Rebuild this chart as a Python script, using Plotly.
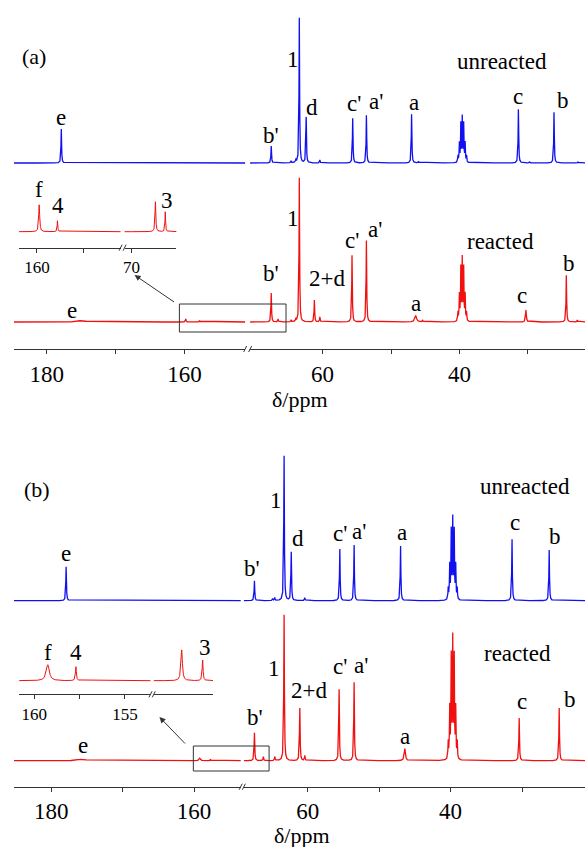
import numpy as np
import plotly.graph_objects as go

W, H = 585, 847

# ---------------------------------------------------------------- data
# Peak lists: chemical shift (ppm), intensity, half-width (ppm)
# Panel (a) - unreacted
a_unr_ppm = [177.9, 67.5, 64.6, 63.9, 63.4, 62.4, 60.4, 55.6, 53.6, 47.0, 46.0, 31.4, 29.8, 26.2, 22.7]
a_unr_int = [34, 17, 2, 3, 146, 46, 3, 45, 48, 49, 1.5, 54, 1, 51, 1]
a_unr_wid = [0.05, 0.05, 0.05, 0.05, 0.05, 0.05, 0.05, 0.05, 0.05, 0.05, 0.05, 0.05, 0.05, 0.05, 0.05]
# Panel (a) - reacted
a_rea_ppm = [174.9, 159.8, 157.8, 67.5, 66.5, 64.6, 63.9, 63.4, 61.2, 60.4, 55.7, 53.6, 46.4, 45.4, 30.3, 24.4, 22.8]
a_rea_int = [1.5, 3, 1.5, 29, 3, 2, 3, 145, 22, 5, 67, 82, 6.5, 2, 12, 47, 2]
a_rea_wid = [0.6, 0.06, 0.05, 0.05, 0.05, 0.05, 0.05, 0.05, 0.05, 0.05, 0.05, 0.05, 0.15, 0.05, 0.07, 0.05, 0.05]
# Panel (a) - inset (reacted, magnified)
a_ins_ppm = [159.75, 157.8, 67.45, 66.4]
a_ins_int = [27, 11, 30, 20]
a_ins_wid = [0.06, 0.04, 0.05, 0.04]

# Panel (b) - unreacted
b_unr_ppm = [177.9, 67.45, 64.9, 64.6, 63.3, 62.3, 60.4, 55.5, 53.5, 47.0, 31.4, 26.2]
b_unr_int = [34, 20, 2, 3, 146, 49, 3, 52, 56, 55, 62, 51]
b_unr_wid = [0.05, 0.05, 0.05, 0.05, 0.05, 0.05, 0.05, 0.05, 0.05, 0.05, 0.05, 0.05]
# Panel (b) - reacted
b_rea_ppm = [175.7, 159.2, 157.7, 67.45, 66.2, 64.6, 63.3, 61.1, 60.4, 55.6, 53.5, 46.4, 30.4, 24.8]
b_rea_int = [1.5, 2.5, 1.5, 28, 4, 4, 147, 53, 5, 72, 79, 12, 43, 53]
b_rea_wid = [0.6, 0.12, 0.04, 0.05, 0.05, 0.05, 0.05, 0.05, 0.05, 0.05, 0.05, 0.1, 0.05, 0.05]
# Panel (b) - inset (reacted, magnified)
b_ins_ppm = [159.25, 157.7, 67.45, 66.25]
b_ins_int = [16, 14, 31, 21]
b_ins_wid = [0.1, 0.03, 0.05, 0.03]

# DMSO-d6 solvent septet: centre (ppm) and line height of each spectrum
dmso_ppm = {"a_unr": 39.6, "a_rea": 39.6, "b_unr": 39.7, "b_rea": 39.7}
dmso_int = {"a_unr": 45, "a_rea": 62, "b_unr": 80, "b_rea": 119}
dmso_J = 0.21
dmso_ratio = [1, 3, 6, 7, 6, 3, 1]

# tick labels
main_ticks_left = [180, 170, 160]
main_ticktext_left = ["180", "", "160"]
main_ticks_right = [60, 50, 40, 30]
main_ticktext_right = ["60", "", "40", ""]

BLUE = "#1010F0"
RED = "#F01010"
AX = "#333333"
FONT = "Liberation Serif, Times New Roman, serif"


def spectrum(x, ppm, inten, wid, key=None):
    y = np.zeros_like(x)
    for p, h, w in zip(ppm, inten, wid):
        y += h * w * w / ((x - p) ** 2 + w * w)
    if key is not None:
        for k, r in enumerate(dmso_ratio):
            c = dmso_ppm[key] + dmso_J * (k - 3)
            y += dmso_int[key] * r / 7.0 * 0.045 ** 2 / ((x - c) ** 2 + 0.045 ** 2)
    return y


# ---------------------------------------------------------------- axes geometry
def px2x(px):
    return px / W


def py2y(py):
    return 1 - py / H


# ppm calibration (pixel -> ppm) for each axis segment
def cal(ppm0, px0, scale):
    return lambda px: ppm0 - (px - px0) / scale


ax_defs = {
    "x": (12, 244, cal(180, 45, 6.9)),
    "x2": (249, 585, cal(60, 321.7, 6.87)),
    "x3": (12, 239.5, cal(180, 49.3, 7.17)),
    "x4": (242.7, 585, cal(60, 306.7, 7.17)),
    "x5": (17, 119, cal(160, 35, 9.4)),
    "x6": (123, 175, cal(70, 130, 9.4)),
    "x7": (17.3, 149, cal(160, 32.3, 18.2)),
    "x8": (152.3, 211.7, cal(67.45, 180.3, 17.5)),
}

# y axes: (axis line pixel row, top pixel row)
y_defs = {
    "y": (349, 0),
    "y2": (786.7, 400),
    "y3": (247.7, 175),
    "y4": (694.3, 625),
}

fig = go.Figure()


def add_trace(xname, yname, ppm, inten, wid, offset, color, key=None, lw=1.3):
    l, r, f = ax_defs[xname]
    hi, lo = f(l), f(r)
    x = np.arange(lo - 0.05, hi + 0.05, 0.01)
    y = spectrum(x, ppm, inten, wid, key) + offset
    fig.add_trace(go.Scatter(x=np.round(x, 3), y=np.round(y, 2), mode="lines",
                             line=dict(color=color, width=lw),
                             xaxis=xname, yaxis=yname, showlegend=False,
                             hoverinfo="skip"))


# panel (a)
for xa in ("x", "x2"):
    add_trace(xa, "y", a_unr_ppm, a_unr_int, a_unr_wid, 186, BLUE, "a_unr")
    add_trace(xa, "y", a_rea_ppm, a_rea_int, a_rea_wid, 27, RED, "a_rea")
for xa in ("x5", "x6"):
    add_trace(xa, "y3", a_ins_ppm, a_ins_int, a_ins_wid, 16, RED, lw=1)
# panel (b)
for xa in ("x3", "x4"):
    add_trace(xa, "y2", b_unr_ppm, b_unr_int, b_unr_wid, 186, BLUE, "b_unr")
    add_trace(xa, "y2", b_rea_ppm, b_rea_int, b_rea_wid, 26, RED, "b_rea")
for xa in ("x7", "x8"):
    add_trace(xa, "y4", b_ins_ppm, b_ins_int, b_ins_wid, 13.6, RED, lw=1)

layout = dict(width=W, height=H, margin=dict(l=0, r=0, t=0, b=0),
              paper_bgcolor="white", plot_bgcolor="rgba(0,0,0,0)",
              showlegend=False, font=dict(family=FONT, color="black"))

anchors = {"x": "y", "x2": "y", "x3": "y2", "x4": "y2",
           "x5": "y3", "x6": "y3", "x7": "y4", "x8": "y4"}
tick_cfg = {
    "x": (main_ticks_left, main_ticktext_left, 23),
    "x2": (main_ticks_right, main_ticktext_right, 23),
    "x3": (main_ticks_left, main_ticktext_left, 23),
    "x4": (main_ticks_right, main_ticktext_right, 23),
    "x5": ([160, 155], ["160", ""], 17),
    "x6": ([70], ["70"], 17),
    "x7": ([160, 157.5, 155], ["160", "", "155"], 17),
    "x8": ([], [], 17),
}
for name, (l, r, f) in ax_defs.items():
    key = "xaxis" if name == "x" else "xaxis" + name[1:]
    tv, tt, fs = tick_cfg[name]
    layout[key] = dict(domain=[px2x(l), px2x(r)], range=[f(l), f(r)],
                       anchor=anchors[name], showline=True, linecolor=AX,
                       linewidth=1, ticks="outside" if tv else "", ticklen=4,
                       tickcolor=AX, tickvals=tv, ticktext=tt,
                       tickfont=dict(family=FONT, size=fs, color="black"),
                       showgrid=False, zeroline=False, fixedrange=True)
for name, (bot, top) in y_defs.items():
    key = "yaxis" if name == "y" else "yaxis" + name[1:]
    layout[key] = dict(domain=[py2y(bot), py2y(top)], range=[0, bot - top],
                       visible=False, fixedrange=True)

# ---------------------------------------------------------------- labels
labels = [
    # panel (a)
    ("(a)", 32, 56, 22), ("e", 59, 117, 23), ("b'", 270, 135, 23), ("1", 292, 59, 23),
    ("d", 311, 107, 23), ("c'", 353, 104, 23), ("a'", 375, 102, 23), ("a", 413, 103, 23),
    ("unreacted", 502, 62, 23), ("c", 518, 97, 23), ("b", 563, 100, 23),
    ("f", 37, 189, 23), ("4", 56, 205, 23), ("3", 166, 200, 23),
    ("e", 70, 311, 23), ("b'", 270, 273, 23), ("1", 292, 218, 23), ("2+d", 326, 278, 23),
    ("c'", 351, 240, 23), ("a'", 374, 229, 23), ("a", 415, 303, 23),
    ("reacted", 500, 241, 23), ("c", 522, 295, 23), ("b", 569, 263, 23),
    ("δ/ppm", 299, 399, 22),
    # panel (b)
    ("(b)", 35, 490, 22), ("e", 64, 553, 23), ("b'", 251, 568, 23), ("1", 275, 501, 23),
    ("d", 297, 538, 23), ("c'", 339, 533, 23), ("a'", 358, 531, 23), ("a", 401, 532, 23),
    ("unreacted", 525, 486, 23), ("c", 515, 522, 23), ("b", 555, 536, 23),
    ("f", 46, 652, 23), ("4", 74, 652, 23), ("3", 204, 647, 23),
    ("e", 81, 745, 23), ("b'", 254, 717, 23), ("1", 273, 668, 23), ("2+d", 308, 690, 23),
    ("c'", 339, 666, 23), ("a'", 360, 665, 23), ("a", 404, 736, 23),
    ("reacted", 517, 653, 23), ("c", 522, 701, 23), ("b", 570, 699, 23),
    ("δ/ppm", 301, 835, 22),
]
annotations = []
for txt, px, py, fs in labels:
    annotations.append(dict(text=txt, x=px2x(px), y=py2y(py), xref="paper", yref="paper",
                            xanchor="center", yanchor="middle", showarrow=False,
                            font=dict(family=FONT, size=fs, color="black")))
# arrows pointing from the boxed region to the insets
for hx, hy, tx, ty in [(133, 275, 174, 303), (158, 717, 185, 745)]:
    annotations.append(dict(text="", x=px2x(hx), y=py2y(hy), xref="paper", yref="paper",
                            ax=tx - hx, ay=ty - hy, axref="pixel", ayref="pixel",
                            showarrow=True, arrowhead=2, arrowsize=1.2, arrowwidth=1,
                            arrowcolor=AX))
layout["annotations"] = annotations

shapes = []
# boxes around the magnified regions
for x0, y0, x1, y1 in [(178, 304, 285, 332), (192, 746, 268, 771)]:
    shapes.append(dict(type="rect", xref="paper", yref="paper",
                       x0=px2x(x0), x1=px2x(x1), y0=py2y(y0), y1=py2y(y1),
                       line=dict(color=AX, width=1)))
# axis break marks
for bx, by in [(244, 349), (249, 349), (239.5, 786.7), (242.7, 786.7),
               (119, 247.7), (123, 247.7), (149, 694.3), (152.3, 694.3)]:
    shapes.append(dict(type="line", xref="paper", yref="paper",
                       x0=px2x(bx - 1.5), x1=px2x(bx + 1.5), y0=py2y(by + 3), y1=py2y(by - 3),
                       line=dict(color=AX, width=1)))
layout["shapes"] = shapes

fig.update_layout(**layout)
fig.write_html("out.html", config={"displayModeBar": False},
               post_script="document.body.style.margin='0';document.body.style.padding='0';"
                           "document.body.style.overflow='hidden';")
